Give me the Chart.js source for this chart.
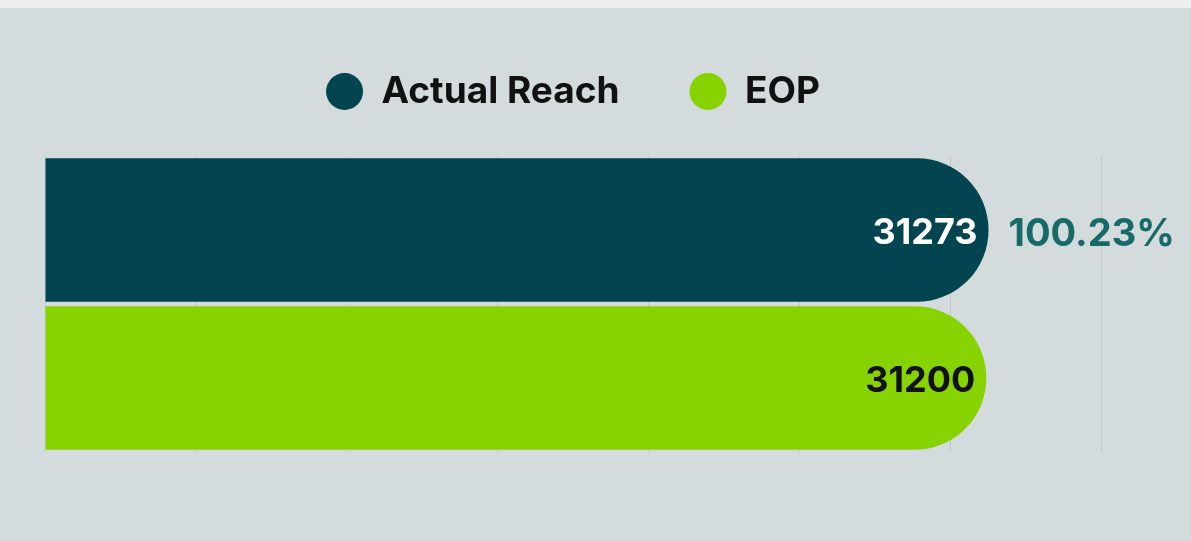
<!DOCTYPE html>
<html>
<head>
<meta charset="utf-8">
<script src="https://cdn.jsdelivr.net/npm/chart.js@4/dist/chart.umd.min.js"></script>
<style>
  html, body { margin: 0; padding: 0; }
  body { background: linear-gradient(#efefef 0, #efefef 8px, #d3dbdd 8px); }
  .wrap { position: relative; width: 1191px; height: 541px; }
</style>
</head>
<body>
<div class="wrap"><canvas id="chart"></canvas></div>
<script>
// chart data
const categories = ['Reach']
const seriesNames = ['Actual Reach', 'EOP']
const actualReach = [31273]
const eop = [31200]
const seriesColors = ['#024450', '#86d300']
const labelColors = ['#ffffff', '#111111']
const xTicks = [0, 5000, 10000, 15000, 20000, 25000, 30000, 35000]

// extra room between legend and bars
const legendGap = {
  id: 'legendGap',
  beforeInit(chart) {
    const fit = chart.legend.fit
    chart.legend.fit = function() {
      fit.bind(chart.legend)()
      this.height += 36
    }
  }
}

// draws the value inside each bar and the achievement % next to the first one
const valueLabels = {
  id: 'valueLabels',
  afterDatasetsDraw(chart) {
    const ctx = chart.ctx
    ctx.save()
    ctx.textBaseline = 'middle'
    chart.data.datasets.forEach((ds, i) => {
      const meta = chart.getDatasetMeta(i)
      meta.data.forEach((bar, j) => {
        ctx.font = "bold 36px Inter, sans-serif"
        ctx.fillStyle = labelColors[i]
        ctx.textAlign = 'right'
        ctx.fillText(String(ds.data[j]), bar.x - 11, bar.y + 3)
        if (i === 0) {
          const pct = (actualReach[j] / eop[j] * 100).toFixed(2) + '%'
          ctx.font = "bold 38px Inter, sans-serif"
          ctx.fillStyle = '#166a68'
          ctx.textAlign = 'left'
          ctx.fillText(pct, bar.x + 20, bar.y + 5)
        }
      })
    })
    ctx.restore()
  }
}

const ctx = document.getElementById('chart').getContext('2d')
new Chart(ctx, {
  type: 'bar',
  data: {
    labels: categories,
    datasets: [
      {
        label: seriesNames[0],
        data: actualReach,
        backgroundColor: seriesColors[0],
        borderRadius: 72,
        borderSkipped: 'start',
        categoryPercentage: 1,
        barPercentage: 0.97
      },
      {
        label: seriesNames[1],
        data: eop,
        backgroundColor: seriesColors[1],
        borderRadius: 72,
        borderSkipped: 'start',
        categoryPercentage: 1,
        barPercentage: 0.97
      }
    ]
  },
  options: {
    indexAxis: 'y',
    responsive: true,
    maintainAspectRatio: false,
    animation: false,
    layout: {
      padding: { top: 3, left: 45, right: 90, bottom: 89 }
    },
    plugins: {
      legend: {
        position: 'top',
        labels: {
          usePointStyle: true,
          pointStyle: 'circle',
          boxHeight: 26,
          pointStyleWidth: 37,
          padding: 70,
          color: '#111111',
          font: { family: "Inter, sans-serif", size: 37, weight: 'bold' }
        }
      },
      tooltip: { enabled: false }
    },
    scales: {
      x: {
        min: 0,
        max: 35000,
        afterBuildTicks: axis => { axis.ticks = xTicks.map(v => ({ value: v })) },
        ticks: { display: false },
        border: { display: false },
        grid: { color: '#bfc8cb', drawTicks: false }
      },
      y: {
        display: false
      }
    }
  },
  plugins: [legendGap, valueLabels]
})
</script>
</body>
</html>
